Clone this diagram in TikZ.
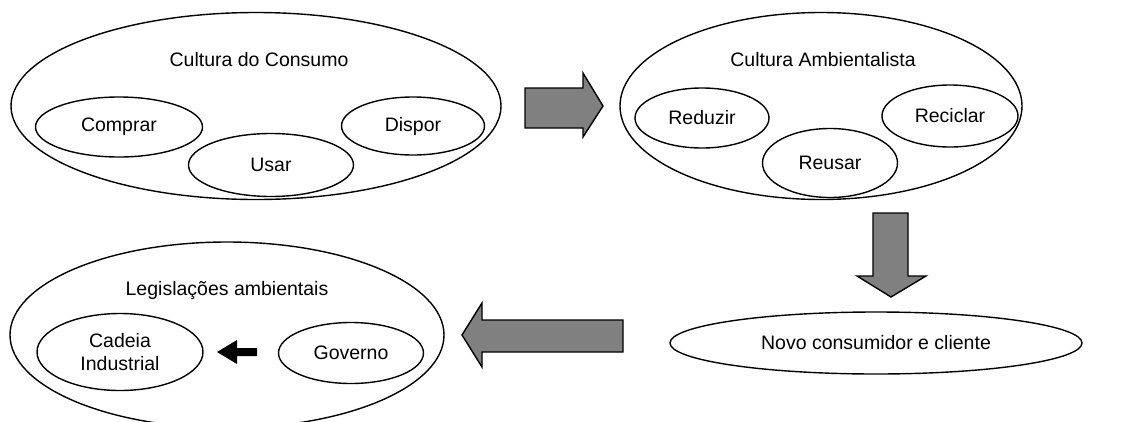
\documentclass[tikz,border=0pt]{standalone}
\usepackage{fontspec}
\setmainfont{Liberation Sans}
\usetikzlibrary{shapes.geometric}
\begin{document}
\begin{tikzpicture}[x=1pt,y=-1pt,
  oval/.style={ellipse,draw,line width=1.4pt,inner sep=0pt},
  lbl/.style={font=\fontsize{19.5}{23}\selectfont,inner sep=0pt,align=center},
  blockarrow/.style={draw,line width=1.4pt,fill=black!50,line join=miter},
  smallarrow/.style={fill=black,draw=none}]
\useasboundingbox (0,0) rectangle (1141,421);
\clip (0,0) rectangle (1141,421);

% consumption culture
\node[oval,minimum width=490,minimum height=187] (consumo) at (256,106) {};
\node[lbl] (tconsumo) at (259,60) {Cultura do Consumo};
\node[oval,minimum width=167,minimum height=60] (comprar) at (119,127) {};
\node[lbl] at (comprar) {Comprar};
\node[oval,minimum width=165,minimum height=63] (usar) at (271,165) {};
\node[lbl] at (usar) {Usar};
\node[oval,minimum width=143,minimum height=58] (dispor) at (413,126) {};
\node[lbl] at (dispor) {Dispor};

% environmental culture
\node[oval,minimum width=402,minimum height=187] (ambiental) at (821,106) {};
\node[lbl] (tambiental) at (823,60) {Cultura Ambientalista};
\node[oval,minimum width=134,minimum height=60] (reduzir) at (702,118) {};
\node[lbl] at (reduzir) {Reduzir};
\node[oval,minimum width=135,minimum height=69] (reusar) at (830,163) {};
\node[lbl] at (reusar) {Reusar};
\node[oval,minimum width=136,minimum height=62] (reciclar) at (950,116) {};
\node[lbl] at (reciclar) {Reciclar};

% new consumer
\node[oval,minimum width=412,minimum height=62] (novo) at (876,343) {};
\node[lbl] at (novo) {Novo consumidor e cliente};

% legislation
\node[oval,minimum width=434,minimum height=186] (legis) at (227,335) {};
\node[lbl] (tlegis) at (227,290) {Legislações ambientais};
\node[oval,minimum width=166,minimum height=77] (cadeia) at (120,352) {};
\node[lbl] at (cadeia) {Cadeia\\Industrial};
\node[oval,minimum width=145,minimum height=61] (governo) at (351,353) {};
\node[lbl] at (governo) {Governo};

% block arrows between the stages
\draw[blockarrow] (525,88) -- (583,88) -- (583,73) -- (603,106) -- (583,137)
  -- (583,128) -- (525,128) -- cycle;
\draw[blockarrow] (873,213) -- (908,213) -- (908,276) -- (926,276) -- (891,297)
  -- (857,276) -- (873,276) -- cycle;
\draw[blockarrow] (623,320) -- (482,320) -- (482,303) -- (462,335) -- (482,367)
  -- (482,352) -- (623,352) -- cycle;

% government acts on the industrial chain
\fill[smallarrow] (257,348) -- (237,348) -- (237,340) -- (217,352) -- (237,364)
  -- (237,356) -- (257,356) -- cycle;
\end{tikzpicture}
\end{document}
